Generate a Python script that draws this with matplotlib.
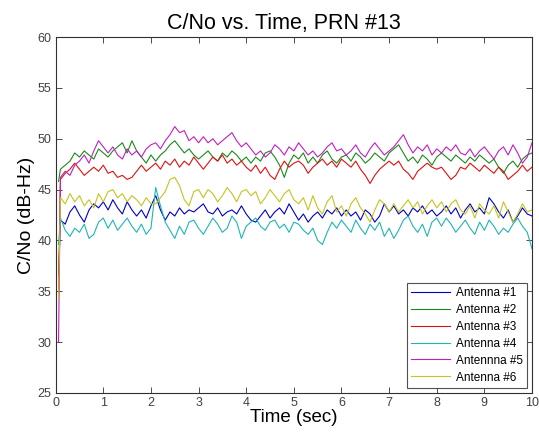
import numpy as np
import matplotlib
matplotlib.use("Agg")
import matplotlib.pyplot as plt

plt.rcParams['font.family'] = ['Liberation Sans', 'DejaVu Sans']

# time axis: first sample just after 0, then every 0.1 sec
time = np.concatenate(([0.06], np.arange(1, 101) / 10))

labels = ["Antenna #1", "Antenna #2", "Antenna #3", "Antenna #4", "Antennna #5", "Antenna #6"]
colors = ["#0000c8", "#1a8a1a", "#e01010", "#20b4b4", "#c020c0", "#c4c420"]

ant1 = [36.6,
        42.0, 41.6, 42.8, 43.4, 42.5, 41.8, 43.0, 43.6, 43.2, 43.8,
        43.0, 44.0, 43.2, 42.6, 43.8, 43.0, 42.4, 43.0, 42.2, 43.4,
        44.4, 43.0, 42.0, 42.8, 42.4, 43.2, 42.6, 43.0, 42.8, 43.2,
        43.6, 42.8, 42.6, 43.2, 42.4, 42.8, 43.0, 42.6, 43.4, 42.6,
        42.0, 41.8, 42.4, 43.0, 42.2, 42.8, 43.2, 42.6, 43.6, 42.8,
        42.0, 42.6, 41.8, 42.4, 42.8, 42.2, 43.0, 42.6, 43.2, 42.4,
        43.0, 42.4, 42.8, 42.0, 43.0, 42.6, 41.8, 42.4, 43.6, 42.8,
        43.4, 42.6, 43.0, 42.4, 43.2, 42.8, 43.4, 42.6, 43.0, 42.4,
        42.8, 43.4, 42.6, 43.2, 42.2, 43.0, 43.6, 42.8, 43.2, 42.6,
        44.2, 43.6, 42.8, 42.2, 43.0, 41.8, 42.4, 43.2, 42.6, 42.4]

ant2 = [45.8,
        47.0, 47.4, 47.8, 48.6, 48.2, 48.8, 48.4, 48.0, 49.0, 48.6,
        48.2, 48.8, 49.2, 49.6, 48.6, 49.8, 48.8, 48.2, 47.6, 48.4,
        47.8, 48.4, 48.8, 49.4, 49.8, 49.2, 48.6, 49.0, 48.4, 48.0,
        48.4, 48.8, 48.2, 47.8, 48.6, 48.2, 48.8, 48.4, 47.8, 48.2,
        47.6, 48.2, 47.8, 48.6, 48.8, 48.2, 47.4, 46.2, 47.6, 48.4,
        48.0, 48.6, 47.6, 48.2, 47.6, 48.4, 48.8, 48.0, 47.6, 48.2,
        48.4, 47.8, 48.6, 48.2, 47.6, 48.0, 48.6, 48.2, 47.8, 48.6,
        49.0, 49.4, 48.6, 47.8, 48.2, 47.6, 48.4, 48.0, 47.4, 48.2,
        48.6, 48.2, 47.8, 48.4, 48.0, 47.6, 48.2, 47.8, 48.4, 48.0,
        47.6, 48.0, 47.2, 46.6, 47.4, 47.8, 47.2, 48.0, 48.4, 48.6]

ant3 = [34.8,
        46.0, 46.6, 47.0, 47.6, 47.0, 46.4, 46.8, 47.2, 46.8, 47.4,
        46.6, 46.8, 46.2, 46.4, 46.0, 46.2, 46.8, 47.4, 46.8, 47.2,
        47.6, 47.0, 47.8, 47.4, 48.0, 47.2, 47.8, 47.4, 48.2, 47.6,
        47.0, 47.6, 48.2, 47.8, 48.4, 47.6, 48.0, 47.4, 47.8, 47.2,
        46.8, 47.4, 46.6, 47.2, 46.4, 46.0, 47.0, 47.8, 47.2, 47.6,
        47.8, 47.4, 46.6, 47.2, 47.6, 48.0, 47.4, 47.8, 47.2, 48.0,
        47.6, 47.2, 47.8, 47.0, 46.4, 45.6, 46.4, 47.0, 47.4, 47.8,
        47.4, 47.8, 47.0, 46.6, 46.0, 46.8, 47.2, 47.6, 47.2, 47.0,
        47.2, 46.6, 46.0, 46.4, 47.2, 47.0, 47.6, 47.2, 46.8, 47.4,
        47.0, 46.6, 47.2, 46.8, 46.0, 46.4, 46.8, 47.4, 46.8, 47.2]

ant4 = [39.6,
        42.2, 41.0, 40.4, 41.2, 40.8, 41.6, 40.2, 40.6, 41.8, 42.2,
        41.2, 42.0, 41.0, 41.6, 42.2, 41.4, 40.8, 41.6, 40.6, 41.2,
        45.2, 43.4, 41.8, 41.0, 40.2, 41.4, 40.6, 41.8, 42.0, 41.2,
        40.6, 41.4, 42.2, 41.6, 40.8, 41.2, 42.4, 41.8, 40.2, 41.4,
        41.8, 42.2, 41.4, 41.0, 41.8, 42.0, 41.2, 41.6, 40.8, 41.8,
        41.6, 41.0, 40.6, 41.2, 40.0, 39.6, 40.8, 41.8, 41.2, 42.0,
        41.4, 40.8, 42.0, 41.2, 40.6, 41.6, 41.0, 41.8, 40.4, 41.2,
        40.2, 41.0, 42.0, 42.4, 41.4, 40.8, 41.6, 40.4, 41.8, 42.2,
        41.4, 42.2, 41.6, 40.8, 41.4, 42.0, 41.2, 40.6, 41.8, 41.0,
        42.0, 41.4, 40.6, 41.2, 40.8, 41.6, 42.2, 41.4, 40.8, 39.2]

ant5 = [30.0,
        46.2, 46.8, 46.4, 47.4, 47.8, 48.4, 47.6, 48.8, 49.8, 49.2,
        48.6, 49.2, 48.4, 48.0, 49.0, 48.4, 48.8, 48.2, 49.0, 49.4,
        49.6, 49.0, 49.8, 50.4, 51.2, 50.6, 50.8, 49.8, 50.2, 49.6,
        50.2, 49.6, 50.0, 49.4, 49.8, 50.2, 50.6, 49.8, 49.2, 49.6,
        49.0, 48.4, 48.8, 48.2, 48.6, 49.4, 49.0, 48.4, 49.2, 48.8,
        49.6, 49.0, 48.4, 48.8, 48.2, 48.6, 49.2, 49.6, 48.8, 49.0,
        48.4, 48.8, 49.4, 48.6, 48.2, 49.0, 49.6, 49.0, 48.4, 48.8,
        49.2, 49.8, 50.4, 49.4, 48.6, 49.2, 48.8, 49.4, 48.4, 49.0,
        48.6, 49.2, 48.8, 49.4, 48.6, 48.4, 49.0, 48.2, 48.8, 49.2,
        48.6, 48.0, 48.8, 49.2, 48.4, 49.4, 48.6, 47.6, 48.2, 49.6]

ant6 = [34.2,
        44.2, 43.6, 44.6, 43.8, 44.4, 43.4, 44.0, 43.2, 44.6, 43.8,
        44.8, 45.0, 44.2, 44.6, 43.8, 44.4, 44.0, 43.4, 44.2, 43.6,
        43.6, 44.2, 44.8, 46.0, 46.2, 45.4, 44.0, 43.4, 44.8, 45.0,
        44.2, 45.0, 44.6, 43.8, 44.4, 45.2, 44.6, 43.8, 44.8, 45.0,
        44.4, 44.8, 43.6, 44.2, 45.0, 44.4, 43.8, 44.6, 45.0, 44.0,
        43.6, 44.2, 43.0, 44.4, 43.2, 42.6, 43.8, 44.4, 42.8, 43.4,
        42.4, 43.6, 44.2, 43.2, 42.6, 41.8, 43.0, 44.0, 43.6, 42.8,
        43.6, 42.8, 43.4, 44.0, 43.2, 43.8, 42.6, 43.4, 44.0, 43.2,
        43.8, 42.8, 43.6, 44.0, 43.0, 42.6, 43.4, 42.2, 43.6, 43.0,
        42.6, 43.4, 42.2, 43.8, 42.8, 41.8, 42.6, 43.6, 42.8, 43.0]

series = [ant1, ant2, ant3, ant4, ant5, ant6]

fig = plt.figure(figsize=(5.39, 4.37), dpi=100)
ax = fig.add_axes([0.1033, 0.1007, 0.8837, 0.8146])

for vals, lab, col in zip(series, labels, colors):
    ax.plot(time, vals, color=col, lw=0.8, label=lab)

ax.set_xlim(0, 10)
ax.set_ylim(25, 60)
ax.set_xticks(range(0, 11))
ax.set_yticks(range(25, 61, 5))
ax.tick_params(direction='in', top=True, right=True, length=4, width=0.6,
               labelsize=9, labelcolor='#404040', color='#303030', pad=3)
for s in ax.spines.values():
    s.set_linewidth(0.8)
    s.set_color('#303030')

ax.set_title("C/No vs. Time, PRN #13", fontsize=15.5, pad=6, x=0.48)
ax.set_xlabel("Time (sec)", fontsize=13.5, labelpad=0)
ax.set_ylabel("C/No (dB-Hz)", fontsize=14, labelpad=2)

leg = ax.legend(loc='lower right', fontsize=8.5, fancybox=False, framealpha=1,
                edgecolor='#505050', handlelength=3.3, handletextpad=0.5,
                borderpad=0.35, labelspacing=0.42, borderaxespad=0.45)
leg.get_frame().set_linewidth(0.8)

fig.savefig("out.png", dpi=100)
